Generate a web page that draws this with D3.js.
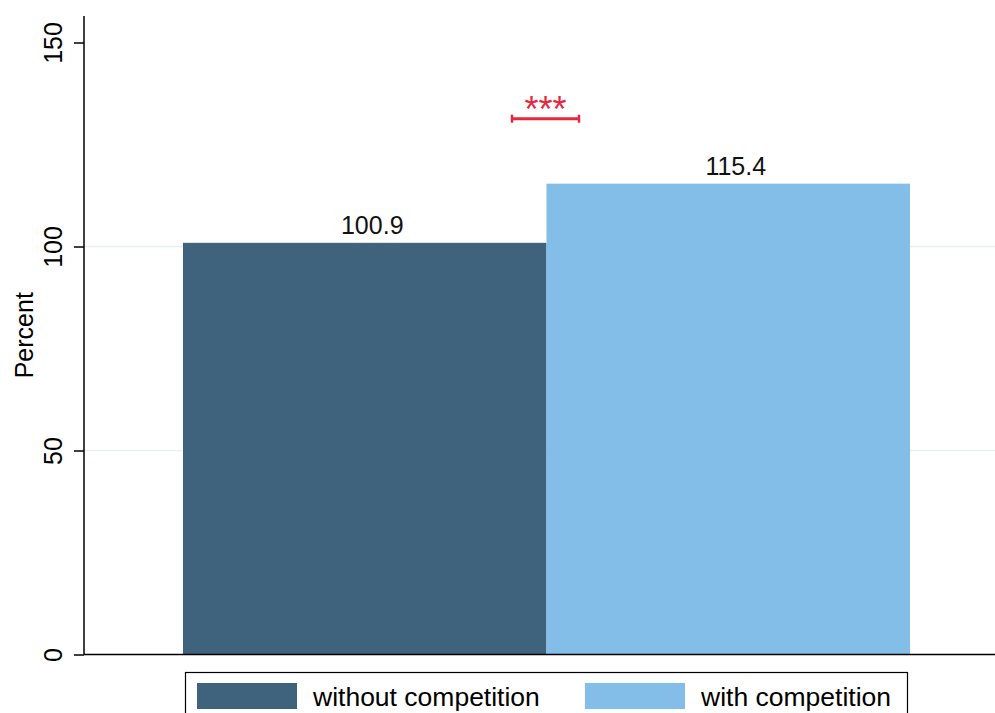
<!DOCTYPE html>
<html>
<head>
<meta charset="utf-8">
<script src="https://cdn.jsdelivr.net/npm/d3@7"></script>
<style>
  html, body { margin: 0; padding: 0; background: #fff; }
  svg { display: block; font-family: "Liberation Sans", Arial, Helvetica, sans-serif; }
</style>
</head>
<body>
<svg id="chart" width="995" height="713"></svg>
<script>
// Share of baseline, by market condition
const groups = ["without competition", "with competition"];
const values = [100.9, 115.4];
const colors = ["#40637d", "#83bee8"];
const yTicks = [0, 50, 100, 150];
const gridTicks = [50, 100];
const sigLabel = "***";
const yTitle = "Percent";

const W = 995, H = 713;
const plot = { left: 84, right: 995, top: 16, bottom: 654.5 };

const svg = d3.select("#chart");

// y scale: 204 px per 50 units
const y = d3.scaleLinear()
  .domain([0, 150])
  .range([plot.bottom, plot.bottom - 612]);

const x = d3.scaleBand()
  .domain(groups)
  .range([183, 910])
  .paddingInner(0)
  .paddingOuter(0);

// gridlines
svg.append("g")
  .selectAll("line")
  .data(gridTicks)
  .join("line")
  .attr("x1", plot.left).attr("x2", plot.right)
  .attr("y1", d => y(d)).attr("y2", d => y(d))
  .attr("stroke", "#e6eff1")
  .attr("stroke-width", 1.5);

// bars
svg.append("g")
  .selectAll("rect")
  .data(values)
  .join("rect")
  .attr("x", (d, i) => x(groups[i]))
  .attr("width", x.bandwidth())
  .attr("y", d => y(d))
  .attr("height", d => y(0) - y(d))
  .attr("fill", (d, i) => colors[i]);

// value labels (set slightly right of the bar centre)
svg.append("g")
  .selectAll("text")
  .data(values)
  .join("text")
  .attr("x", (d, i) => x(groups[i]) + x.bandwidth() / 2 + 7.5)
  .attr("y", d => y(d) - 9)
  .attr("text-anchor", "middle")
  .attr("font-size", 25)
  .attr("fill", "#111")
  .text(d => d.toFixed(1));

// significance bracket
const sigY = 118.7;
const sig = svg.append("g").attr("stroke", "#e5283f").attr("stroke-width", 3);
sig.append("line").attr("x1", 512).attr("x2", 579).attr("y1", sigY).attr("y2", sigY);
sig.append("line").attr("x1", 512).attr("x2", 512).attr("y1", sigY - 4).attr("y2", sigY + 4).attr("stroke-width", 2.5);
sig.append("line").attr("x1", 579).attr("x2", 579).attr("y1", sigY - 4).attr("y2", sigY + 4).attr("stroke-width", 2.5);
svg.append("text")
  .attr("x", 545.5)
  .attr("y", 122)
  .attr("text-anchor", "middle")
  .attr("font-size", 36)
  .attr("fill", "#e5283f")
  .text(sigLabel);

// y axis
const yAxis = d3.axisLeft(y)
  .tickValues(yTicks)
  .tickSize(10)
  .tickPadding(0)
  .tickFormat(d3.format("d"));

const gy = svg.append("g")
  .attr("transform", `translate(${plot.left},0)`)
  .call(yAxis);
gy.select(".domain").remove();
gy.selectAll(".tick line").attr("stroke", "#000").attr("stroke-width", 1.5);
gy.selectAll(".tick text")
  .attr("font-size", 25)
  .attr("fill", "#000")
  .attr("text-anchor", "middle")
  .attr("x", null)
  .attr("dy", null)
  .attr("transform", "translate(-22,0) rotate(-90)");

svg.append("line")
  .attr("x1", plot.left).attr("x2", plot.left)
  .attr("y1", plot.top).attr("y2", plot.bottom)
  .attr("stroke", "#000").attr("stroke-width", 1.5);

// x axis baseline
svg.append("line")
  .attr("x1", plot.left).attr("x2", plot.right)
  .attr("y1", plot.bottom).attr("y2", plot.bottom)
  .attr("stroke", "#000").attr("stroke-width", 1.5);

// y title
svg.append("text")
  .attr("transform", `translate(33,${(plot.top + plot.bottom) / 2}) rotate(-90)`)
  .attr("text-anchor", "middle")
  .attr("font-size", 25)
  .attr("fill", "#000")
  .text(yTitle);

// legend
const legend = svg.append("g");
legend.append("rect")
  .attr("x", 185.5).attr("y", 672.5)
  .attr("width", 722).attr("height", 60)
  .attr("fill", "#fff")
  .attr("stroke", "#000").attr("stroke-width", 1.2);

const legendX = [197, 585];
const items = legend.selectAll("g.item")
  .data(groups)
  .join("g")
  .attr("class", "item")
  .attr("transform", (d, i) => `translate(${legendX[i]},683)`);
items.append("rect")
  .attr("width", 100).attr("height", 26)
  .attr("fill", (d, i) => colors[i]);
items.append("text")
  .attr("x", 116).attr("y", 23)
  .attr("font-size", 26.5)
  .attr("fill", "#000")
  .text(d => d);
</script>
</body>
</html>
